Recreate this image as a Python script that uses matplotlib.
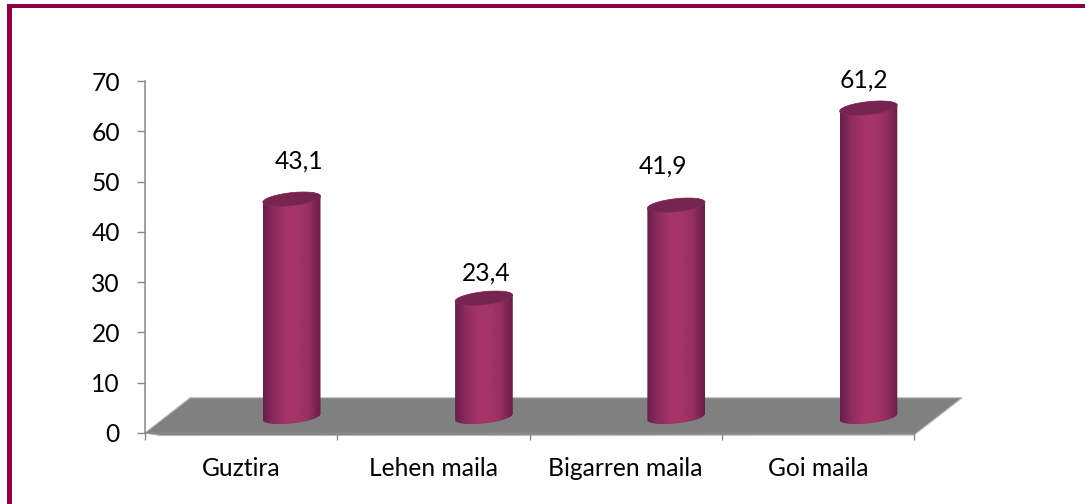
import numpy as np
import matplotlib
matplotlib.use('Agg')
import matplotlib.pyplot as plt
from matplotlib.colors import LinearSegmentedColormap
from matplotlib.patches import PathPatch, Polygon, Rectangle
from matplotlib.path import Path

categories = ['Guztira', 'Lehen maila', 'Bigarren maila', 'Goi maila']
values = [43.1, 23.4, 41.9, 61.2]
value_labels = ['43,1', '23,4', '41,9', '61,2']
y_ticks = [0, 10, 20, 30, 40, 50, 60, 70]

# manual label offsets from the top of each bar, pixels
label_dx = [7, 2, -13, -4]
label_dy = [38, 25, 39, 28]

W, H = 1085, 504
BORDER = '#8a0040'
GREY = '#888888'
plt.rcParams['font.family'] = ['Lato', 'DejaVu Sans']
plt.rcParams['font.size'] = 17.7

fig = plt.figure(figsize=(W / 100, H / 100), dpi=100)
ax = fig.add_axes([145 / W, (H - 433) / H, 769 / W, 352 / H])
ax.set_xlim(0, 4)
ax.set_ylim(0, 70)

# frame round the picture
fig.add_artist(Rectangle((7 / W, 0), 4.5 / W, (H - 4) / H, transform=fig.transFigure, color=BORDER, lw=0))
fig.add_artist(Rectangle((7 / W, (H - 8) / H), (W - 7) / W, 4 / H, transform=fig.transFigure, color=BORDER, lw=0))

# floor of the 3d chart
floor = Polygon([(0, 0), (0.235, 7), (4.25, 7), (4, -0.4), (0.08, -0.5)], closed=True,
                facecolor='#808080', edgecolor='#b5b5b5', lw=0.8, clip_on=False, zorder=1)
ax.add_patch(floor)

cmap = LinearSegmentedColormap.from_list('bar', ['#681e4a', '#8e2d5e', '#a53568', '#a53568', '#932f60', '#661d47'])
gradient = np.linspace(0, 1, 256).reshape(1, -1)

half_w = 0.15
half_h = 1.3
tilt = 0.6
base = 3.2
shift = 0.263

t = np.linspace(0, np.pi, 60)
for i, value in enumerate(values):
    cx = i + 0.5 + shift
    top = base + value + 0.2
    # outline: top arc from right to left, then bottom arc from left to right
    top_x = cx + half_w * np.cos(t)
    top_y = top + half_h * np.sin(t) + tilt * np.cos(t)
    bottom_x = cx - half_w * np.cos(t)
    bottom_y = base - half_h * np.sin(t) - tilt * np.cos(t)
    outline = np.column_stack([np.r_[top_x, bottom_x], np.r_[top_y, bottom_y]])
    body = Path(np.vstack([outline, outline[:1]]), closed=True)

    im = ax.imshow(gradient, cmap=cmap, aspect='auto', zorder=3,
                   extent=[cx - half_w, cx + half_w, base - 2, top + 2])
    im.set_clip_path(PathPatch(body, transform=ax.transData))

    s = np.linspace(0, 2 * np.pi, 100)
    cap = np.column_stack([cx + half_w * np.cos(s), top + half_h * np.sin(s) + tilt * np.cos(s)])
    ax.add_patch(Polygon(cap, closed=True, facecolor='#75254f', edgecolor='#8a2b5c', lw=0.5, zorder=4))

    ax.annotate(value_labels[i], (cx, top), xytext=(label_dx[i], label_dy[i]), textcoords='offset pixels',
                ha='center', va='center', color='black', zorder=5)

ax.set_xlim(0, 4)
ax.set_ylim(0, 70)

for side in ['top', 'right']:
    ax.spines[side].set_visible(False)
for side in ['left', 'bottom']:
    ax.spines[side].set_color(GREY)
    ax.spines[side].set_linewidth(1.1)

ax.set_yticks(y_ticks)
ax.tick_params(axis='y', length=6, width=1, color=GREY, pad=12, labelcolor='black')
ax.set_xticks(range(5))
ax.set_xticklabels([])
ax.tick_params(axis='x', which='major', length=5, width=1, color=GREY)
ax.set_xticks(np.arange(4) + 0.5, minor=True)
ax.set_xticklabels(categories, minor=True)
ax.tick_params(axis='x', which='minor', length=0, pad=17, labelcolor='black')

fig.savefig('out.png', dpi=100)
